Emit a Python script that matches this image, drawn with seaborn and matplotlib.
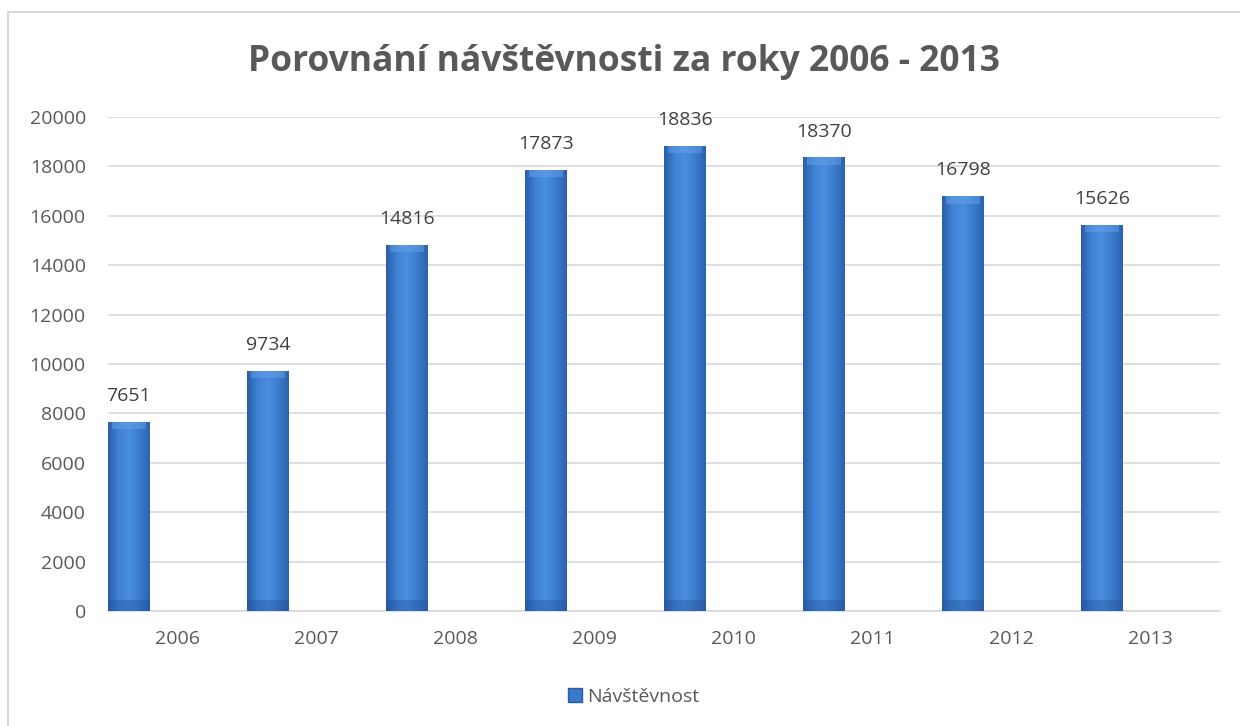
import numpy as np
import pandas as pd
import seaborn as sns
import matplotlib.pyplot as plt
from matplotlib.colors import LinearSegmentedColormap
from matplotlib.patches import Rectangle
from matplotlib.lines import Line2D

# chart data
years = ['2006', '2007', '2008', '2009', '2010', '2011', '2012', '2013']
visits = [7651, 9734, 14816, 17873, 18836, 18370, 16798, 15626]
series_name = 'Návštěvnost'
title = 'Porovnání návštěvnosti za roky 2006 - 2013'

df = pd.DataFrame({'rok': years, 'pocet': visits})

sns.set_style('white')
plt.rcParams['font.family'] = ['Open Sans', 'DejaVu Sans']

fig = plt.figure(figsize=(12.4, 7.26), dpi=100)
ax = fig.add_axes([0.0871, 0.1584, 0.8968, 0.6804])

sns.barplot(data=df, x='rok', y='pocet', width=0.3, color='#3a78c8',
            errorbar=None, ax=ax, zorder=3)

# excel style: bar sits in the left part of the category
bar_cmap = LinearSegmentedColormap.from_list(
    'bar', ['#2b5ea8', '#3f82d4', '#4a8ee0', '#3b7ccc', '#2d62ae'])
grad = np.linspace(0, 1, 64).reshape(1, -1)
for p, v in zip(ax.patches, visits):
    p.set_x(p.get_x() - 0.35)
    p.set_edgecolor('none')
    x0, w = p.get_x(), p.get_width()
    im = ax.imshow(grad, cmap=bar_cmap, aspect='auto', zorder=3,
                   extent=[x0, x0 + w, 0, v])
    im.set_clip_path(p)
    # darker foot and lighter bevel on top
    ax.add_patch(Rectangle((x0, 0), w, 450, color='#24529a', alpha=0.4,
                           lw=0, zorder=4))
    ax.add_patch(Rectangle((x0 + w * 0.1, v - 300), w * 0.8, 300,
                           color='#6aa6ea', alpha=0.45, lw=0, zorder=4))
    ax.annotate(str(v), (x0 + w / 2, v), xytext=(0, 12),
                textcoords='offset points', ha='center', va='bottom',
                fontsize=14, color='#404040')

ax.set_xlim(-0.5, 7.5)
ax.set_ylim(0, 20000)
ax.set_yticks(range(0, 20001, 2000))
ax.yaxis.grid(True, color='#d9d9d9', lw=1.2, zorder=0)
ax.set_axisbelow(True)
for s in ['top', 'right', 'left']:
    ax.spines[s].set_visible(False)
ax.spines['bottom'].set_color('#d9d9d9')
ax.spines['bottom'].set_linewidth(1.2)
ax.tick_params(axis='both', length=0, labelsize=14, labelcolor='#595959')
ax.tick_params(axis='y', pad=16)
ax.tick_params(axis='x', pad=14)
ax.set_xlabel('')
ax.set_ylabel('')

fig.text(0.503, 0.915, title, ha='center', va='center', fontsize=25.5,
         fontweight='bold', color='#595959')

handle = Line2D([], [], marker='s', ls='none', markersize=10,
                markerfacecolor='#3a78c8', markeredgecolor='#2b5ea8')
fig.legend([handle], [series_name], loc='center', bbox_to_anchor=(0.51, 0.04),
           frameon=False, fontsize=14, handletextpad=0.1,
           labelcolor='#595959', handlelength=1.0)

# chart border
fig.add_artist(Line2D([8 / 1240, 1.0], [1 - 12 / 726] * 2, color='#d9d9d9',
                      lw=1.5, transform=fig.transFigure))
fig.add_artist(Line2D([8 / 1240] * 2, [0, 1 - 12 / 726], color='#d9d9d9',
                      lw=1.5, transform=fig.transFigure))

fig.savefig('out.png', dpi=100, facecolor='white')
